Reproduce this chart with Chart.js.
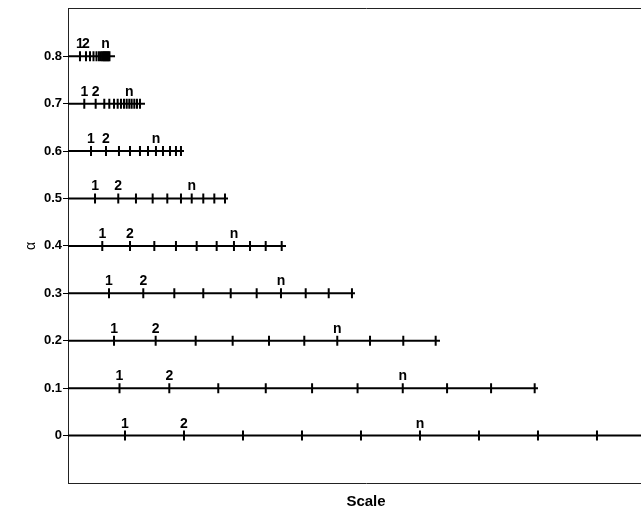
<!DOCTYPE html>
<html><head><meta charset="utf-8">
<script src="https://cdn.jsdelivr.net/npm/chart.js@4"></script>
<style>
html,body{margin:0;padding:0;overflow:hidden;background:#fff;width:641px;height:515px}
#wrap{width:680px;height:515px}
</style></head>
<body><div id="wrap"><canvas id="c" width="680" height="515"></canvas></div>
<script>
// α levels (y) and their tick labels
const alphaLevels = [0, 0.1, 0.2, 0.3, 0.4, 0.5, 0.6, 0.7, 0.8];
const alphaTickLabels = ['0', '0.1', '0.2', '0.3', '0.4', '0.5', '0.6', '0.7', '0.8'];

// scale positions of the tick marks on each α row
const scaleA00 = [1, 2, 3, 4, 5, 6, 7, 8, 9];
const scaleA01 = [0.907, 1.751, 2.581, 3.386, 4.171, 4.942, 5.708, 6.459, 7.205, 7.944];
const scaleA02 = [0.814, 1.520, 2.198, 2.825, 3.441, 4.039, 4.598, 5.153, 5.717, 6.266];
const scaleA03 = [0.729, 1.310, 1.836, 2.327, 2.792, 3.232, 3.644, 4.063, 4.453, 4.847];
const scaleA04 = [0.615, 1.085, 1.497, 1.864, 2.215, 2.554, 2.847, 3.119, 3.385, 3.656];
const scaleA05 = [0.492, 0.886, 1.186, 1.469, 1.717, 1.949, 2.131, 2.327, 2.514, 2.695];
const scaleA06 = [0.424, 0.678, 0.898, 1.085, 1.254, 1.390, 1.525, 1.644, 1.763, 1.864, 1.949];
const scaleA07 = [0.310, 0.503, 0.649, 0.734, 0.814, 0.876, 0.932, 0.983, 1.029, 1.073, 1.113, 1.158, 1.203, 1.254];
const scaleA08 = [0.237, 0.339, 0.407, 0.466, 0.517, 0.559, 0.593, 0.619, 0.636, 0.653, 0.669, 0.686, 0.703, 0.720, 0.737];
const rowScales = [scaleA00, scaleA01, scaleA02, scaleA03, scaleA04, scaleA05, scaleA06, scaleA07, scaleA08];

// where each row's line starts and ends on the scale axis
const lineStart = 0;
const lineEnds = [10.3, 8.0, 6.339, 4.898, 3.729, 2.746, 2.0, 1.339, 0.831];

// which tick on each row is labelled "n"
const nIndex = [5, 6, 6, 6, 6, 6, 6, 9, 10];
const markLabels = ['1', '2', 'n'];

const scaleMin = 0.034, scaleMax = 10.136;

const datasets = [];
alphaLevels.forEach((a, i) => {
  datasets.push({
    type: 'scatter', showLine: true,
    data: [{x: lineStart, y: a}, {x: lineEnds[i], y: a}],
    borderColor: '#000', borderWidth: 2, pointRadius: 0
  });
  datasets.push({
    type: 'scatter', showLine: false,
    data: rowScales[i].map(s => ({x: s, y: a})),
    pointStyle: 'line', pointRotation: 90, pointRadius: 5,
    borderColor: '#000', backgroundColor: '#000', borderWidth: 2
  });
});

const rowLabelPlugin = {
  id: 'rowLabels',
  afterDatasetsDraw(chart) {
    const ctx = chart.ctx;
    ctx.save();
    ctx.font = 'bold 14px "Liberation Sans", Arial, sans-serif';
    ctx.fillStyle = '#000';
    ctx.textAlign = 'center';
    ctx.textBaseline = 'alphabetic';
    alphaLevels.forEach((a, i) => {
      const meta = chart.getDatasetMeta(2 * i + 1);
      const idx = [0, 1, nIndex[i]];
      idx.forEach((j, k) => {
        const p = meta.data[j];
        if (p) ctx.fillText(markLabels[k], p.x, p.y - 8);
      });
    });
    ctx.restore();
  }
};

Chart.defaults.color = '#000';
Chart.defaults.font.family = '"Liberation Sans", Arial, sans-serif';

new Chart(document.getElementById('c'), {
  type: 'scatter',
  data: { datasets },
  options: {
    responsive: false, animation: false, devicePixelRatio: 1, events: [],
    layout: { padding: { left: 0, top: 0, right: 16, bottom: 0 } },
    plugins: { legend: { display: false }, tooltip: { enabled: false } },
    scales: {
      x: {
        type: 'linear', position: 'bottom', min: scaleMin, max: scaleMax,
        ticks: { display: false },
        grid: { drawOnChartArea: false, drawTicks: false },
        border: { display: true, color: '#222', width: 1 },
        title: { display: true, text: 'Scale', font: { size: 15, weight: 'bold' }, padding: { top: 0, bottom: 4 } },
        afterFit(s) { s.height = 32; }
      },
      xTop: {
        type: 'linear', position: 'top', min: scaleMin, max: scaleMax,
        ticks: { display: false },
        grid: { drawOnChartArea: false, drawTicks: false },
        border: { display: true, color: '#222', width: 1 },
        afterFit(s) { s.height = 8; }
      },
      y: {
        type: 'linear', min: -0.1, max: 0.9,
        afterBuildTicks(s) { s.ticks = alphaLevels.map(v => ({ value: v })); },
        ticks: {
          padding: 1,
          font: { size: 13, weight: 'bold' },
          callback: (v) => { const i = alphaLevels.findIndex(a => Math.abs(a - v) < 1e-6); return i >= 0 ? alphaTickLabels[i] : ''; }
        },
        grid: { drawOnChartArea: false, drawTicks: true, tickLength: 5, color: '#000' },
        border: { display: true, color: '#222', width: 1 },
        title: { display: true, text: 'α', font: { size: 14 }, padding: { top: 23, bottom: 0 } },
        afterFit(s) { s.width = 68; }
      }
    }
  },
  plugins: [rowLabelPlugin]
});
</script>
</body></html>
